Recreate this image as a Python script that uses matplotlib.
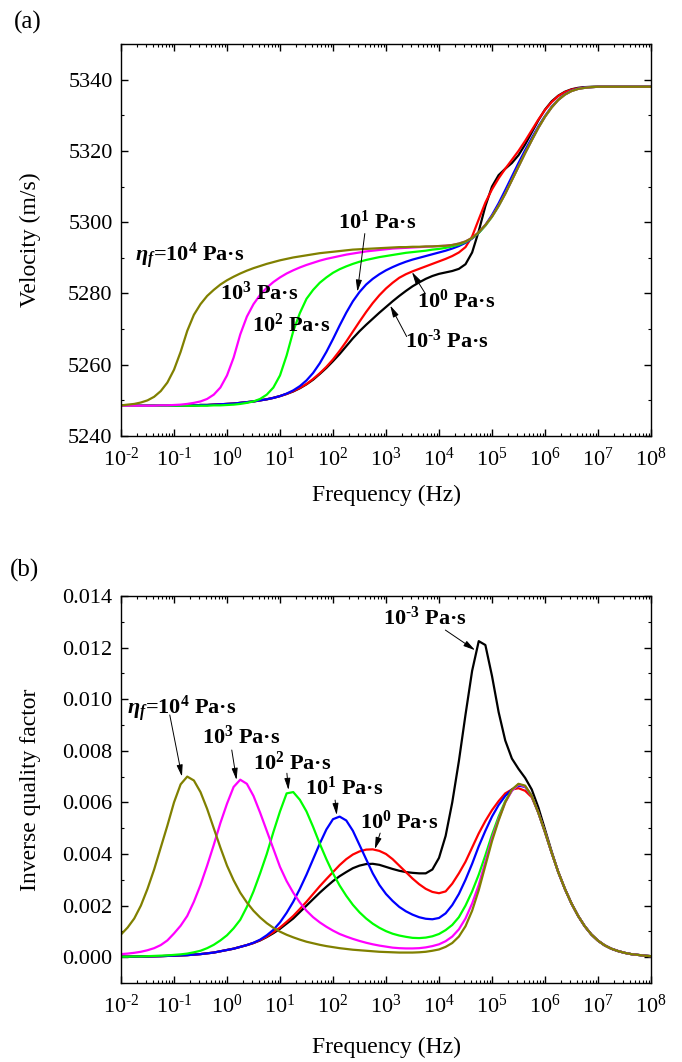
import matplotlib
matplotlib.use("Agg")
import matplotlib.pyplot as plt
from matplotlib.ticker import LogLocator, MultipleLocator, FormatStrFormatter, NullFormatter, FuncFormatter
import numpy as np

# ===================== fonts =====================
plt.rcParams['font.family'] = ['Liberation Serif', 'DejaVu Serif']
plt.rcParams['mathtext.fontset'] = 'custom'
plt.rcParams['mathtext.rm'] = 'Liberation Serif'
plt.rcParams['mathtext.it'] = 'Liberation Serif:italic'
plt.rcParams['mathtext.bf'] = 'Liberation Serif:bold'
try:
    plt.rcParams['mathtext.bfit'] = 'Liberation Serif:italic:bold'
    ETA = r"$\mathbfit{\eta}_{\mathbfit{f}}$"
except KeyError:
    ETA = r"$\eta_f$"
HYPH = '\u2010'  # short hyphen as in the original exponents

# ===================== data =====================
# log10 of frequency (Hz), 1/8-decade steps from 1e-2 to 1e8 (one row = one decade)
log_freq = np.arange(-2, 8.001, 0.125)
freq = 10 ** log_freq

colors = ["black", "#ff0000", "#0000ff", "#00ff00", "#ff00ff", "#808000"]

# velocity (m/s), eta_f = 1e-3 ... 1e4 Pa.s
vel_1e_3 = [5248.5, 5248.5, 5248.5, 5248.5, 5248.5, 5248.5, 5248.5, 5248.5,
            5248.5, 5248.5, 5248.6, 5248.6, 5248.7, 5248.7, 5248.8, 5248.9,
            5249.0, 5249.1, 5249.3, 5249.5, 5249.7, 5250.0, 5250.3, 5250.7,
            5251.2, 5251.8, 5252.5, 5253.4, 5254.5, 5255.8, 5257.4, 5259.1,
            5261.0, 5263.0, 5265.2, 5267.4, 5269.4, 5271.2, 5272.9, 5274.6,
            5276.2, 5277.8, 5279.3, 5280.7, 5282.0, 5283.1, 5284.1, 5284.9,
            5285.5, 5285.9, 5286.3, 5286.9, 5288.2, 5291.5, 5297.5, 5304.5,
            5310.0, 5313.2, 5315.0, 5316.6, 5318.8, 5321.8, 5325.2, 5328.6,
            5331.6, 5333.9, 5335.5, 5336.6, 5337.3, 5337.7, 5337.9, 5338.0,
            5338.0, 5338.0, 5338.0, 5338.0, 5338.0, 5338.0, 5338.0, 5338.0,
            5338.0]
vel_1e0 = [5248.5, 5248.5, 5248.5, 5248.5, 5248.5, 5248.5, 5248.5, 5248.5,
           5248.5, 5248.5, 5248.6, 5248.6, 5248.7, 5248.7, 5248.8, 5248.9,
           5249.0, 5249.1, 5249.3, 5249.5, 5249.7, 5250.0, 5250.3, 5250.7,
           5251.2, 5251.8, 5252.6, 5253.5, 5254.6, 5256.0, 5257.6, 5259.4,
           5261.5, 5263.9, 5266.5, 5269.3, 5272.1, 5274.8, 5277.3, 5279.5,
           5281.4, 5283.0, 5284.4, 5285.4, 5286.2, 5286.9, 5287.6, 5288.3,
           5289.0, 5289.7, 5290.5, 5291.5, 5293.0, 5296.0, 5300.8, 5305.5,
           5309.2, 5312.3, 5315.0, 5317.5, 5320.0, 5322.8, 5325.8, 5328.8,
           5331.5, 5333.7, 5335.4, 5336.5, 5337.2, 5337.6, 5337.8, 5337.9,
           5338.0, 5338.0, 5338.0, 5338.0, 5338.0, 5338.0, 5338.0, 5338.0,
           5338.0]
vel_1e1 = [5248.5, 5248.5, 5248.5, 5248.5, 5248.5, 5248.5, 5248.5, 5248.5,
           5248.5, 5248.5, 5248.6, 5248.6, 5248.7, 5248.7, 5248.8, 5248.9,
           5249.0, 5249.1, 5249.3, 5249.5, 5249.7, 5250.0, 5250.3, 5250.7,
           5251.2, 5251.9, 5252.8, 5254.0, 5255.6, 5257.7, 5260.4, 5263.6,
           5267.2, 5271.0, 5274.6, 5277.8, 5280.4, 5282.5, 5284.1, 5285.4,
           5286.5, 5287.4, 5288.2, 5288.9, 5289.5, 5290.0, 5290.5, 5291.0,
           5291.5, 5292.0, 5292.6, 5293.3, 5294.2, 5295.4, 5297.0, 5299.2,
           5302.0, 5305.3, 5309.0, 5312.8, 5316.6, 5320.2, 5323.6, 5326.9,
           5329.8, 5332.4, 5334.4, 5335.9, 5336.9, 5337.5, 5337.8, 5337.9,
           5338.0, 5338.0, 5338.0, 5338.0, 5338.0, 5338.0, 5338.0, 5338.0,
           5338.0]
vel_1e2 = [5248.5, 5248.5, 5248.5, 5248.5, 5248.5, 5248.5, 5248.5, 5248.5,
           5248.5, 5248.5, 5248.5, 5248.5, 5248.5, 5248.5, 5248.6, 5248.6,
           5248.7, 5248.8, 5249.0, 5249.3, 5249.7, 5250.4, 5251.6, 5253.6,
           5257.0, 5262.6, 5269.4, 5274.5, 5278.5, 5281.0, 5283.0, 5284.5,
           5285.8, 5286.8, 5287.6, 5288.3, 5288.9, 5289.4, 5289.8, 5290.2,
           5290.5, 5290.8, 5291.1, 5291.4, 5291.6, 5291.8, 5292.0, 5292.3,
           5292.5, 5292.8, 5293.2, 5293.7, 5294.4, 5295.5, 5297.0, 5299.0,
           5301.5, 5304.5, 5308.0, 5311.8, 5315.6, 5319.4, 5323.0, 5326.5,
           5329.6, 5332.2, 5334.3, 5335.8, 5336.8, 5337.4, 5337.7, 5337.9,
           5338.0, 5338.0, 5338.0, 5338.0, 5338.0, 5338.0, 5338.0, 5338.0,
           5338.0]
vel_1e3 = [5248.5, 5248.5, 5248.5, 5248.5, 5248.5, 5248.5, 5248.6, 5248.6,
           5248.7, 5248.8, 5249.0, 5249.3, 5249.7, 5250.4, 5251.6, 5253.6,
           5257.0, 5262.0, 5268.5, 5273.5, 5277.0, 5279.6, 5281.6, 5283.2,
           5284.5, 5285.6, 5286.5, 5287.3, 5288.0, 5288.6, 5289.2, 5289.7,
           5290.1, 5290.5, 5290.9, 5291.2, 5291.5, 5291.8, 5292.0, 5292.2,
           5292.4, 5292.6, 5292.7, 5292.8, 5292.9, 5293.0, 5293.1, 5293.2,
           5293.3, 5293.4, 5293.6, 5294.0, 5294.6, 5295.6, 5297.2, 5299.2,
           5301.6, 5304.6, 5308.0, 5311.8, 5315.6, 5319.4, 5323.0, 5326.5,
           5329.6, 5332.2, 5334.3, 5335.8, 5336.8, 5337.4, 5337.7, 5337.9,
           5338.0, 5338.0, 5338.0, 5338.0, 5338.0, 5338.0, 5338.0, 5338.0,
           5338.0]
vel_1e4 = [5248.6, 5248.8, 5249.0, 5249.4, 5250.0, 5251.0, 5252.6, 5255.0,
           5258.6, 5263.6, 5269.5, 5274.0, 5277.0, 5279.3, 5281.0, 5282.5,
           5283.7, 5284.7, 5285.6, 5286.4, 5287.1, 5287.7, 5288.3, 5288.8,
           5289.3, 5289.7, 5290.1, 5290.4, 5290.7, 5291.0, 5291.3, 5291.5,
           5291.7, 5291.9, 5292.1, 5292.3, 5292.4, 5292.5, 5292.6, 5292.7,
           5292.8, 5292.9, 5293.0, 5293.0, 5293.1, 5293.1, 5293.2, 5293.2,
           5293.3, 5293.4, 5293.6, 5294.0, 5294.6, 5295.6, 5297.2, 5299.2,
           5301.6, 5304.6, 5308.0, 5311.8, 5315.6, 5319.4, 5323.0, 5326.5,
           5329.6, 5332.2, 5334.3, 5335.8, 5336.8, 5337.4, 5337.7, 5337.9,
           5338.0, 5338.0, 5338.0, 5338.0, 5338.0, 5338.0, 5338.0, 5338.0,
           5338.0]

# inverse quality factor (x 1e-3)
iq_1e_3 = [0.02, 0.02, 0.025, 0.03, 0.03, 0.035, 0.04, 0.05,
           0.06, 0.07, 0.08, 0.10, 0.12, 0.15, 0.18, 0.23,
           0.28, 0.33, 0.40, 0.47, 0.55, 0.65, 0.78, 0.93,
           1.10, 1.30, 1.50, 1.75, 2.00, 2.25, 2.50, 2.73,
           2.95, 3.14, 3.30, 3.45, 3.55, 3.61, 3.62, 3.58,
           3.50, 3.42, 3.35, 3.30, 3.27, 3.25, 3.25, 3.40,
           3.85, 4.70, 6.00, 7.60, 9.40, 11.10, 12.25, 12.10,
           10.90, 9.50, 8.40, 7.70, 7.30, 6.95, 6.50, 5.80,
           4.95, 4.10, 3.30, 2.65, 2.08, 1.60, 1.20, 0.88,
           0.64, 0.46, 0.33, 0.24, 0.17, 0.12, 0.09, 0.06,
           0.04]
iq_1e0 = [0.02, 0.02, 0.025, 0.03, 0.03, 0.035, 0.04, 0.05,
          0.06, 0.07, 0.08, 0.10, 0.12, 0.15, 0.18, 0.23,
          0.28, 0.33, 0.40, 0.47, 0.55, 0.66, 0.80, 0.97,
          1.15, 1.37, 1.60, 1.87, 2.15, 2.45, 2.75, 3.03,
          3.30, 3.57, 3.80, 3.98, 4.10, 4.17, 4.18, 4.12,
          4.00, 3.80, 3.55, 3.30, 3.05, 2.83, 2.65, 2.53,
          2.48, 2.55, 2.85, 3.25, 3.70, 4.25, 4.80, 5.28,
          5.70, 6.05, 6.35, 6.50, 6.55, 6.45, 6.20, 5.60,
          4.85, 4.05, 3.30, 2.65, 2.08, 1.60, 1.20, 0.88,
          0.64, 0.46, 0.33, 0.24, 0.17, 0.12, 0.09, 0.06,
          0.04]
iq_1e1 = [0.02, 0.02, 0.025, 0.03, 0.03, 0.035, 0.04, 0.05,
          0.06, 0.07, 0.08, 0.10, 0.12, 0.15, 0.18, 0.23,
          0.28, 0.33, 0.40, 0.47, 0.56, 0.68, 0.85, 1.06,
          1.35, 1.72, 2.15, 2.65, 3.20, 3.80, 4.40, 4.95,
          5.35, 5.45, 5.30, 4.90, 4.35, 3.80, 3.25, 2.80,
          2.45, 2.18, 1.95, 1.78, 1.65, 1.55, 1.49, 1.47,
          1.52, 1.70, 2.02, 2.45, 3.00, 3.62, 4.30, 4.90,
          5.45, 5.90, 6.25, 6.50, 6.65, 6.60, 6.25, 5.60,
          4.85, 4.05, 3.30, 2.65, 2.08, 1.60, 1.20, 0.88,
          0.64, 0.46, 0.33, 0.24, 0.17, 0.12, 0.09, 0.06,
          0.04]
iq_1e2 = [0.02, 0.02, 0.03, 0.03, 0.04, 0.05, 0.06, 0.07,
          0.09, 0.11, 0.14, 0.19, 0.25, 0.35, 0.48, 0.65,
          0.85, 1.12, 1.45, 1.95, 2.55, 3.25, 4.00, 4.85,
          5.65, 6.35, 6.40, 6.10, 5.65, 5.05, 4.40, 3.80,
          3.25, 2.78, 2.38, 2.03, 1.74, 1.50, 1.30, 1.14,
          1.01, 0.91, 0.84, 0.79, 0.75, 0.74, 0.76, 0.81,
          0.90, 1.05, 1.25, 1.55, 2.00, 2.55, 3.20, 3.95,
          4.75, 5.45, 6.05, 6.45, 6.70, 6.62, 6.25, 5.60,
          4.85, 4.05, 3.30, 2.65, 2.08, 1.60, 1.20, 0.88,
          0.64, 0.46, 0.33, 0.24, 0.17, 0.12, 0.09, 0.06,
          0.04]
iq_1e3 = [0.12, 0.14, 0.17, 0.21, 0.27, 0.35, 0.47, 0.65,
          0.92, 1.22, 1.60, 2.15, 2.80, 3.55, 4.35, 5.20,
          5.95, 6.60, 6.88, 6.72, 6.25, 5.60, 4.90, 4.20,
          3.50, 2.95, 2.50, 2.12, 1.80, 1.55, 1.35, 1.18,
          1.03, 0.90, 0.80, 0.71, 0.63, 0.56, 0.50, 0.45,
          0.41, 0.37, 0.35, 0.34, 0.34, 0.35, 0.38, 0.43,
          0.50, 0.62, 0.80, 1.08, 1.50, 2.08, 2.80, 3.70,
          4.60, 5.35, 6.00, 6.45, 6.70, 6.62, 6.25, 5.60,
          4.85, 4.05, 3.30, 2.65, 2.08, 1.60, 1.20, 0.88,
          0.64, 0.46, 0.33, 0.24, 0.17, 0.12, 0.09, 0.06,
          0.04]
iq_1e4 = [0.88, 1.15, 1.50, 2.00, 2.65, 3.40, 4.25, 5.10,
          6.00, 6.70, 7.00, 6.85, 6.40, 5.75, 5.00, 4.25,
          3.55, 2.98, 2.50, 2.12, 1.80, 1.54, 1.32, 1.14,
          0.99, 0.87, 0.77, 0.68, 0.60, 0.54, 0.48, 0.43,
          0.39, 0.35, 0.32, 0.29, 0.27, 0.25, 0.23, 0.21,
          0.20, 0.19, 0.18, 0.18, 0.18, 0.19, 0.21, 0.25,
          0.30, 0.40, 0.55, 0.80, 1.20, 1.80, 2.60, 3.55,
          4.50, 5.30, 6.00, 6.50, 6.72, 6.65, 6.25, 5.60,
          4.85, 4.05, 3.30, 2.65, 2.08, 1.60, 1.20, 0.88,
          0.64, 0.46, 0.33, 0.24, 0.17, 0.12, 0.09, 0.06,
          0.04]

velocity = [vel_1e_3, vel_1e0, vel_1e1, vel_1e2, vel_1e3, vel_1e4]
inv_q = [iq_1e_3, iq_1e0, iq_1e1, iq_1e2, iq_1e3, iq_1e4]


def pas(e):
    return r"10$^{\mathbf{%s}}$ Pa·s" % str(e).replace('-', HYPH)


def decade_label(x, pos):
    e = int(round(np.log10(x)))
    return r"$\mathdefault{10^{%s}}$" % str(e).replace('-', HYPH)


# ===================== figure =====================
W, H = 682, 1062
fig = plt.figure(figsize=(W / 100, H / 100), dpi=100)
ax1 = fig.add_axes([121 / W, 1 - 436 / H, 530 / W, 392 / H])
ax2 = fig.add_axes([121 / W, 1 - 983 / H, 530 / W, 387 / H])

for v, c in zip(velocity, colors):
    ax1.plot(freq, v, color=c, lw=1.6)
for q, c in zip(inv_q, colors):
    ax2.plot(freq, np.array(q) * 1e-3, color=c, lw=1.6)

for ax in (ax1, ax2):
    ax.set_xscale('log')
    ax.set_xlim(1e-2, 1e8)
    ax.xaxis.set_major_locator(LogLocator(base=10, numticks=20))
    ax.xaxis.set_major_formatter(FuncFormatter(decade_label))
    ax.xaxis.set_minor_locator(LogLocator(base=10, subs=np.arange(2, 10), numticks=200))
    ax.xaxis.set_minor_formatter(NullFormatter())
    ax.tick_params(which='both', direction='in', top=True, right=True, labelsize=16)
    ax.tick_params(axis='x', pad=8)
    ax.tick_params(axis='y', pad=6)
    ax.tick_params(which='major', length=5, width=1)
    ax.tick_params(which='minor', length=2.5, width=0.8)
    for s in ax.spines.values():
        s.set_linewidth(1)
    ax.set_xlabel('Frequency (Hz)', fontsize=17)

ax1.set_ylim(5240, 5350)
ax1.yaxis.set_major_locator(MultipleLocator(20))
ax1.yaxis.set_minor_locator(MultipleLocator(10))
ax1.set_ylabel('Velocity (m/s)', fontsize=17)

ax2.set_ylim(-0.001, 0.014)
ax2.yaxis.set_major_locator(MultipleLocator(0.002))
ax2.yaxis.set_minor_locator(MultipleLocator(0.001))
ax2.yaxis.set_major_formatter(FormatStrFormatter('%.3f'))
ax2.set_ylabel('Inverse quality factor', fontsize=17)

for ax in (ax1, ax2):
    ax.yaxis.set_label_coords(-0.151, 0.5)
ax1.xaxis.set_label_coords(0.5, -0.125)
ax2.xaxis.set_label_coords(0.5, -0.14)

arrow = dict(arrowstyle='-|>,head_length=0.7,head_width=0.18', color='black',
             lw=0.7, shrinkA=0, shrinkB=0)
tkw = dict(fontsize=16, fontweight='bold', ha='left', va='center')

# ---- panel (a) labels
ax1.text(10 ** -1.74, 5290.7, ETA + "=10$^{\\mathbf{4}}$ Pa·s", **tkw)
ax1.text(10 ** -0.13, 5280.0, pas(3), **tkw)
ax1.text(10 ** 0.47, 5271.1, pas(2), **tkw)
ax1.text(10 ** 2.09, 5299.9, pas(1), **tkw)
ax1.annotate('', xy=(10 ** 2.46, 5280.5), xytext=(10 ** 2.60, 5296.8), arrowprops=arrow)
ax1.text(10 ** 3.58, 5277.8, pas(0), **tkw)
ax1.annotate('', xy=(10 ** 3.49, 5286.0), xytext=(10 ** 3.74, 5280.0), arrowprops=arrow)
ax1.text(10 ** 3.36, 5266.6, pas(-3), **tkw)
ax1.annotate('', xy=(10 ** 3.08, 5276.6), xytext=(10 ** 3.39, 5267.9), arrowprops=arrow)

# ---- panel (b) labels
ax2.text(10 ** -1.89, 9.62e-3, ETA + "=10$^{\\mathbf{4}}$ Pa·s", **tkw)
ax2.annotate('', xy=(10 ** -0.85, 7.0e-3), xytext=(10 ** -1.08, 9.39e-3), arrowprops=arrow)
ax2.text(10 ** -0.47, 8.53e-3, pas(3), **tkw)
ax2.annotate('', xy=(10 ** 0.18, 6.87e-3), xytext=(10 ** 0.09, 8.03e-3), arrowprops=arrow)
ax2.text(10 ** 0.49, 7.53e-3, pas(2), **tkw)
ax2.annotate('', xy=(10 ** 1.16, 6.48e-3), xytext=(10 ** 1.13, 7.13e-3), arrowprops=arrow)
ax2.text(10 ** 1.47, 6.56e-3, pas(1), **tkw)
ax2.annotate('', xy=(10 ** 2.07, 5.51e-3), xytext=(10 ** 2.04, 6.09e-3), arrowprops=arrow)
ax2.text(10 ** 2.51, 5.24e-3, pas(0), **tkw)
ax2.annotate('', xy=(10 ** 2.79, 4.19e-3), xytext=(10 ** 2.89, 4.81e-3), arrowprops=arrow)
ax2.text(10 ** 2.95, 13.15e-3, pas(-3), **tkw)
ax2.annotate('', xy=(10 ** 4.68, 11.9e-3), xytext=(10 ** 4.12, 12.68e-3), arrowprops=arrow)

fig.text(14 / W, 1 - 22 / H, '(a)', fontsize=18, ha='left', va='center')
fig.text(10 / W, 1 - 570 / H, '(b)', fontsize=18, ha='left', va='center')

fig.savefig('out.png', dpi=100)
